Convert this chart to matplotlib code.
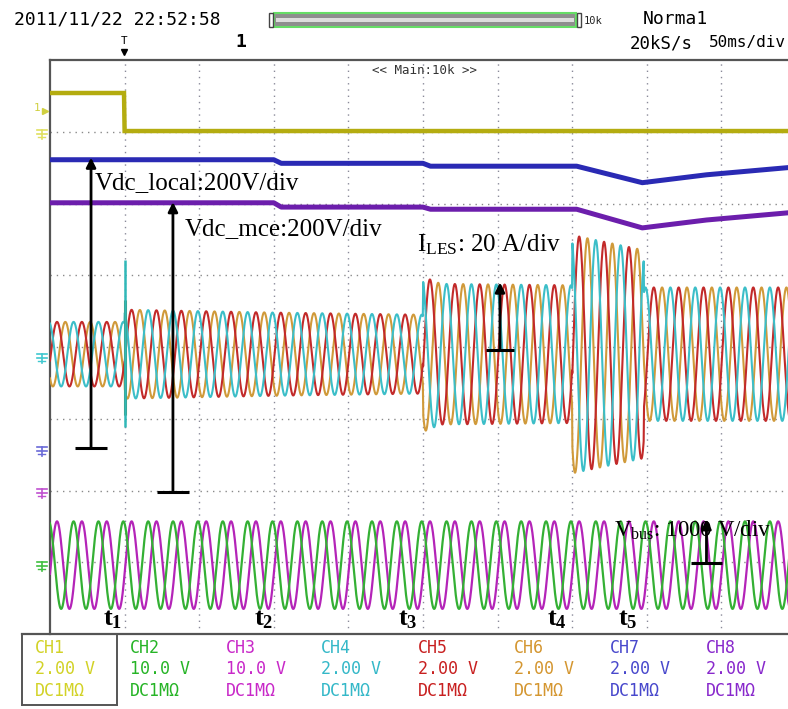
import numpy as np
import matplotlib
matplotlib.use("Agg")
import matplotlib.pyplot as plt
from matplotlib.lines import Line2D
from matplotlib.patches import Rectangle

plt.rcParams['mathtext.fontset'] = 'custom'
plt.rcParams['mathtext.rm'] = 'Liberation Serif'
plt.rcParams['mathtext.it'] = 'Liberation Serif:italic'
plt.rcParams['mathtext.bf'] = 'Liberation Serif:bold'

# ---------------- data (time in ms, levels in screen divisions) ----------------
freq_hz = 60
yellow_t = [0, 49.6, 50.0, 500]
yellow_v = [3.54, 3.54, 3.01, 3.01]
vdc_t = [0, 150, 155, 250, 255, 353, 397, 440, 500]
vdc_local_v = [2.61, 2.61, 2.56, 2.56, 2.52, 2.52, 2.29, 2.40, 2.51]
vdc_mce_v = [2.01, 2.01, 1.95, 1.95, 1.92, 1.92, 1.66, 1.77, 1.88]
les_env_t = [0, 49.9, 50.1, 150, 249.9, 250.1, 262, 349.9, 350.1, 397.9, 398.1, 500]
les_env_amp = [0.45, 0.45, 0.62, 0.58, 0.55, 1.08, 0.98, 0.96, 1.66, 1.45, 0.93, 0.93]
les_center = -0.10
les_phase = -0.2
bus_amp = 0.61
bus_center = -3.04
bus_phase = -0.2
spike_t = 50.0
spike_cyan = [-1.11, 1.21]
spike_dark = [-0.95, 0.66]
event_labels = ["1", "2", "3", "4", "5"]
event_t = [42, 143, 240, 340, 387]

channels = ["CH1", "CH2", "CH3", "CH4", "CH5", "CH6", "CH7", "CH8"]
volts = ["2.00 V", "10.0 V", "10.0 V", "2.00 V", "2.00 V", "2.00 V", "2.00 V", "2.00 V"]
chan_colors = ["#d2d226", "#26b426", "#c828c8", "#34b8c8", "#c82020", "#d49630", "#4848cc", "#8828cc"]

# ---------------- figure ----------------
W, H = 788, 709
fig = plt.figure(figsize=(W / 100, H / 100), dpi=100)
fig.patch.set_facecolor("white")

left_px, top_px, bot_px = 50, 60, 634
div_x = 74.6
ax = fig.add_axes([left_px / W, 1 - bot_px / H, 10 * div_x / W, (bot_px - top_px) / H])
ax.set_xlim(0, 500)
ax.set_ylim(-4, 4)
ax.set_xticks([]); ax.set_yticks([])
for s in ["right", "bottom"]:
    ax.spines[s].set_visible(False)
for s in ["left", "top"]:
    ax.spines[s].set_color("#555555")
    ax.spines[s].set_linewidth(1.6)

# grid
for k in range(1, 10):
    ax.axvline(50 * k, color="#8a8a99", lw=1.0, ls=(0, (1, 3.5)), zorder=1)
for k in range(-3, 4):
    ax.axhline(k, color="#8a8a8a", lw=1.0, ls=(0, (1, 3.5)), zorder=1)

t = np.linspace(0, 500, 6000)
w = 2 * np.pi * freq_hz * t / 1000.0

# DC traces
ax.plot(yellow_t, yellow_v, color="#b4ac10", lw=3.2, zorder=3, solid_joinstyle="miter")
ax.plot(vdc_t, vdc_local_v, color="#2a2ab4", lw=3.6, zorder=3)
ax.plot(vdc_t, vdc_mce_v, color="#6c1eac", lw=3.6, zorder=3)

# three-phase LES currents
env = np.interp(t, les_env_t, les_env_amp)
ax.plot(t, les_center + env * np.sin(w + les_phase - 2 * np.pi / 3), color="#d09a3a", lw=1.5, zorder=4)
ax.plot(t, les_center + env * np.sin(w + les_phase), color="#c22a2a", lw=1.5, zorder=4)
ax.plot(t, les_center + env * np.sin(w + les_phase + 2 * np.pi / 3), color="#3cbec8", lw=1.5, zorder=4)
ax.vlines(spike_t + 0.6, spike_dark[0], spike_dark[1], color="#5a7a3a", lw=2.2, zorder=5)
ax.vlines(spike_t, spike_cyan[0], spike_cyan[1], color="#30b8b8", lw=1.8, zorder=5)

# bus voltages
ax.plot(t, bus_center + bus_amp * np.sin(w + bus_phase), color="#b424b8", lw=1.6, zorder=4)
ax.plot(t, bus_center + bus_amp * np.sin(w + bus_phase + 2 * np.pi / 3), color="#34b034", lw=1.6, zorder=5)

# scale annotations
serif = "Liberation Serif"
def scale_arrow(x, y0, y1, half):
    ax.annotate("", xy=(x, y1), xytext=(x, y0),
                arrowprops=dict(arrowstyle="-|>", color="black", lw=2.0,
                                mutation_scale=14, shrinkA=0, shrinkB=0), zorder=8)
    ax.hlines(y0, x - half, x + half, color="black", lw=2.2, zorder=8)

scale_arrow(27.5, -1.41, 2.64, 11)
scale_arrow(82.4, -2.02, 2.02, 11)
scale_arrow(301.6, -0.04, 0.90, 9.5)
scale_arrow(440, -3.01, -2.40, 10.5)

fs_ann = 18
ax.text(30, 2.28, "Vdc_local:200V/div", family=serif, fontsize=fs_ann, va="center", ha="left", zorder=9)
ax.text(90.5, 1.65, "Vdc_mce:200V/div", family=serif, fontsize=fs_ann, va="center", ha="left", zorder=9)
ax.text(246, 1.42, r"I$_{\mathrm{LES}}$: 20 A/div", family=serif, fontsize=fs_ann, va="center", ha="left", zorder=9)
ax.text(378, -2.55, r"V$_{\mathrm{bus}}$: 1000 V/div", family=serif, fontsize=16.5, va="center", ha="left", zorder=9)

for lab, tx in zip(event_labels, event_t):
    ax.text(tx, -3.78, r"$\mathbf{t}_{\mathbf{%s}}$" % lab, fontsize=19, ha="center", va="center", zorder=9)

ax.text(251, 3.86, "<< Main:10k >>", family="DejaVu Sans Mono", fontsize=9, color="#333333",
        ha="center", va="center")

# ---------------- overlay in pixel coordinates ----------------
ov = fig.add_axes([0, 0, 1, 1], zorder=10)
ov.set_xlim(0, W); ov.set_ylim(H, 0)
ov.axis("off")
ov.patch.set_alpha(0)

mono = "DejaVu Sans Mono"
ov.text(14, 20, "2011/11/22 22:52:58", family=mono, fontsize=13, va="center", ha="left")
ov.add_patch(Rectangle((274, 13), 302, 14, facecolor="#8e8e8e", edgecolor="#66dd66", lw=1.5))
ov.add_patch(Rectangle((276, 18), 298, 4, facecolor="#dddddd", edgecolor="none"))
ov.add_patch(Rectangle((269, 13), 4, 14, facecolor="white", edgecolor="#444444", lw=1))
ov.add_patch(Rectangle((577, 13), 4, 14, facecolor="white", edgecolor="#444444", lw=1))
ov.text(584, 21, "10k", family=mono, fontsize=7.5, va="center", ha="left", color="#222222")
ov.text(643, 19, "Norma1", family=mono, fontsize=13, va="center", ha="left")
ov.text(124, 41, "T", family=mono, fontsize=8, va="center", ha="center")
ov.plot([124], [52], marker="v", color="black", markersize=5)
ov.text(241, 42, "1", family=mono, fontsize=13, va="center", ha="center", fontweight="bold")
ov.text(630, 43, "20kS/s", family=mono, fontsize=12.5, va="center", ha="left")
ov.text(786, 43, "50ms/div", family=mono, fontsize=11.5, va="center", ha="right")

# ground / level markers left of the frame
def gnd(y, c):
    ov.plot([37, 47], [y - 4, y - 4], color=c, lw=1.2)
    ov.plot([37, 47], [y, y], color=c, lw=1.2)
    ov.plot([42, 42], [y - 4, y + 5], color=c, lw=1.2)
    ov.plot([38.5, 45.5], [y + 3, y + 3], color=c, lw=1.0)
gnd(134, "#e0e060")
gnd(358, "#40c8d0")
gnd(451, "#6a6ad8")
gnd(493, "#c050d0")
gnd(566, "#40c040")
ov.text(34, 108, "1", family=mono, fontsize=8, color="#d0d040", va="center", ha="left")
ov.plot([45], [111], marker=">", color="#d0d040", markersize=5)

# bottom frame and channel table
ov.add_line(Line2D([22, W], [bot_px, bot_px], color="#555555", lw=1.6))
ov.add_line(Line2D([22, 22], [bot_px, 705], color="#555555", lw=1.4))
ov.add_line(Line2D([117, 117], [bot_px, 705], color="#555555", lw=1.4))
ov.add_line(Line2D([22, 117], [705, 705], color="#555555", lw=1.4))
col_x = [35, 130, 226, 321, 418, 514, 610, 706]
for cx, ch, v, c in zip(col_x, channels, volts, chan_colors):
    ov.text(cx, 648, ch, family=mono, fontsize=12, color=c, va="center", ha="left")
    ov.text(cx, 669, v, family=mono, fontsize=12, color=c, va="center", ha="left")
    ov.text(cx, 691, "DC1M\u03a9", family=mono, fontsize=12, color=c, va="center", ha="left")

fig.savefig("out.png", dpi=100, facecolor="white")
